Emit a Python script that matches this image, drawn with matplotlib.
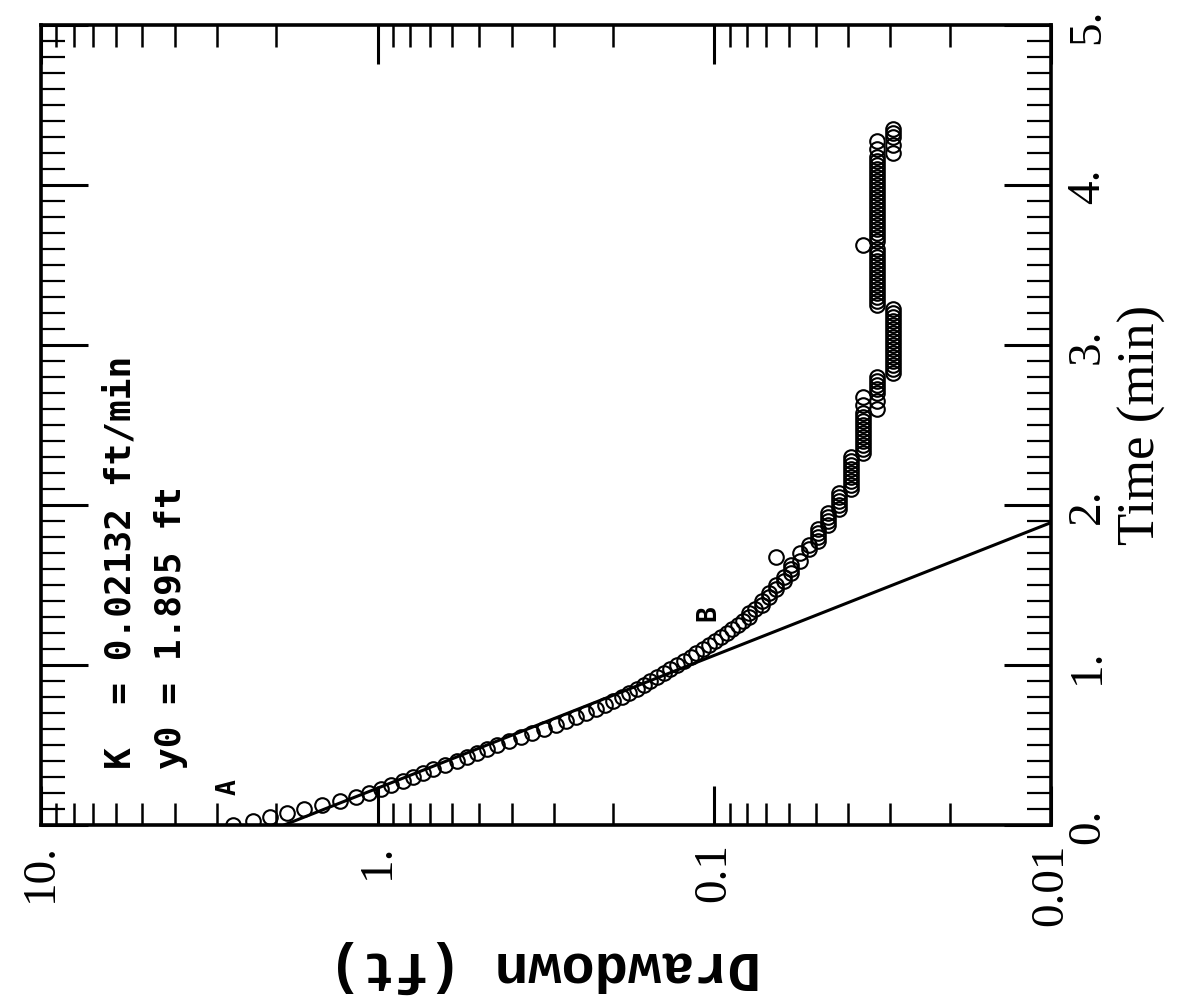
import matplotlib
matplotlib.use("Agg")
import matplotlib.pyplot as plt
from matplotlib.ticker import LogLocator, MultipleLocator, NullFormatter

# ---------------- data ----------------
time_min = [
    0.000, 0.025, 0.050, 0.075, 0.100, 0.125, 0.150, 0.175, 0.200, 0.225,
    0.250, 0.275, 0.300, 0.325, 0.350, 0.375, 0.400, 0.425, 0.450, 0.475,
    0.500, 0.525, 0.550, 0.575, 0.600, 0.625, 0.650, 0.675, 0.700, 0.725,
    0.750, 0.775, 0.800, 0.825, 0.850, 0.875, 0.900, 0.925, 0.950, 0.975,
    1.000, 1.025, 1.050, 1.075, 1.100, 1.125, 1.150, 1.175, 1.200, 1.225,
    1.250, 1.275, 1.300, 1.325, 1.350, 1.375, 1.400, 1.425, 1.450, 1.475,
    1.500, 1.525, 1.550, 1.575, 1.600, 1.625, 1.650, 1.675, 1.700, 1.725,
    1.750, 1.775, 1.800, 1.825, 1.850, 1.875, 1.900, 1.925, 1.950, 1.975,
    2.000, 2.025, 2.050, 2.075, 2.100, 2.125, 2.150, 2.175, 2.200, 2.225,
    2.250, 2.275, 2.300, 2.325, 2.350, 2.375, 2.400, 2.425, 2.450, 2.475,
    2.500, 2.525, 2.550, 2.575, 2.600, 2.625, 2.650, 2.675, 2.700, 2.725,
    2.750, 2.775, 2.800, 2.825, 2.850, 2.875, 2.900, 2.925, 2.950, 2.975,
    3.000, 3.025, 3.050, 3.075, 3.100, 3.125, 3.150, 3.175, 3.200, 3.225,
    3.250, 3.275, 3.300, 3.325, 3.350, 3.375, 3.400, 3.425, 3.450, 3.475,
    3.500, 3.525, 3.550, 3.575, 3.600, 3.625, 3.650, 3.675, 3.700, 3.725,
    3.750, 3.775, 3.800, 3.825, 3.850, 3.875, 3.900, 3.925, 3.950, 3.975,
    4.000, 4.025, 4.050, 4.075, 4.100, 4.125, 4.150, 4.175, 4.200, 4.225,
    4.250, 4.275, 4.300, 4.325, 4.350,
]

drawdown_ft = [
    2.69, 2.34, 2.09, 1.86, 1.66, 1.46, 1.29, 1.16, 1.06, 0.977,
    0.912, 0.841, 0.785, 0.733, 0.684, 0.631, 0.582, 0.543, 0.507, 0.473,
    0.442, 0.407, 0.376, 0.347, 0.320, 0.295, 0.275, 0.257, 0.240, 0.225,
    0.211, 0.200, 0.188, 0.179, 0.170, 0.162, 0.155, 0.148, 0.141, 0.135,
    0.129, 0.123, 0.117, 0.113, 0.108, 0.104, 0.0995, 0.0955, 0.0919, 0.0886,
    0.0853, 0.0820, 0.0787, 0.0787, 0.0755, 0.0722, 0.0722, 0.0689, 0.0689, 0.0656,
    0.0656, 0.0623, 0.0623, 0.0591, 0.0591, 0.0591, 0.0558, 0.0656, 0.0558, 0.0525,
    0.0525, 0.0492, 0.0492, 0.0492, 0.0492, 0.0459, 0.0459, 0.0459, 0.0459, 0.0427,
    0.0427, 0.0427, 0.0427, 0.0427, 0.0394, 0.0394, 0.0394, 0.0394, 0.0394, 0.0394,
    0.0394, 0.0394, 0.0394, 0.0361, 0.0361, 0.0361, 0.0361, 0.0361, 0.0361, 0.0361,
    0.0361, 0.0361, 0.0361, 0.0361, 0.0328, 0.0361, 0.0328, 0.0361, 0.0328, 0.0328,
    0.0328, 0.0328, 0.0328, 0.0295, 0.0295, 0.0295, 0.0295, 0.0295, 0.0295, 0.0295,
    0.0295, 0.0295, 0.0295, 0.0295, 0.0295, 0.0295, 0.0295, 0.0295, 0.0295, 0.0295,
    0.0328, 0.0328, 0.0328, 0.0328, 0.0328, 0.0328, 0.0328, 0.0328, 0.0328, 0.0328,
    0.0328, 0.0328, 0.0328, 0.0328, 0.0328, 0.0361, 0.0328, 0.0328, 0.0328, 0.0328,
    0.0328, 0.0328, 0.0328, 0.0328, 0.0328, 0.0328, 0.0328, 0.0328, 0.0328, 0.0328,
    0.0328, 0.0328, 0.0328, 0.0328, 0.0328, 0.0328, 0.0328, 0.0328, 0.0295, 0.0328,
    0.0295, 0.0328, 0.0295, 0.0295, 0.0295,
]

# straight-line fit (on log scale) between points A and B
fit_time_min = [0.0, 1.89]
fit_drawdown_ft = [1.895, 0.01]

drawdown_ticks = [10, 1, 0.1, 0.01]
drawdown_ticklabels = ["10.", "1.", "0.1", "0.01"]
time_ticks = [0, 1, 2, 3, 4, 5]
time_ticklabels = ["0.", "1.", "2.", "3.", "4.", "5."]

marker_labels = ["A", "B"]
marker_label_drawdown = [2.78, 0.1045]
marker_label_time = [0.24, 1.325]

K_text = "K  = 0.02132 ft/min"
y0_text = "y0 = 1.895 ft"
time_label = "Time (min)"
drawdown_label = "Drawdown (ft)"

# ---------------- figure ----------------
W, H = 1184, 996
fig = plt.figure(figsize=(W / 100, H / 100), dpi=100)
fig.patch.set_facecolor("white")

# chart is drawn rotated: drawdown runs horizontally, time vertically
ax = fig.add_axes([41 / W, 1 - 825 / H, (1051 - 41) / W, (825 - 25) / H])
ax.set_xscale("log")
ax.set_xlim(10, 0.01)
ax.set_ylim(0, 5)

ax.plot(drawdown_ft, time_min, linestyle="none", marker="o",
        markerfacecolor="none", markeredgecolor="black",
        markersize=10.5, markeredgewidth=1.5)
ax.plot(fit_drawdown_ft, fit_time_min, color="black", linewidth=2.2)

for s in ax.spines.values():
    s.set_linewidth(2.6)
    s.set_color("black")

serif = "Liberation Serif"

ax.set_xticks(drawdown_ticks)
ax.set_xticklabels(drawdown_ticklabels, fontfamily=serif, fontsize=34)
ax.xaxis.set_minor_locator(LogLocator(base=10, subs=(2, 3, 4, 5, 6, 7, 8, 9), numticks=20))
ax.xaxis.set_minor_formatter(NullFormatter())

ax.set_yticks(time_ticks)
ax.set_yticklabels(time_ticklabels, fontfamily=serif, fontsize=34)
ax.yaxis.set_minor_locator(MultipleLocator(0.1))

ax.tick_params(axis="both", which="both", direction="in",
               top=True, bottom=True, left=True, right=True,
               colors="black")
ax.tick_params(axis="x", which="major", length=28, width=2.2,
               labelrotation=90, pad=13)
ax.tick_params(axis="x", which="minor", length=16, width=1.8)
ax.tick_params(axis="y", which="major", length=34, width=2.2,
               labelleft=False, labelright=True, labelrotation=90, pad=11)
ax.tick_params(axis="y", which="minor", length=17, width=1.6)

for lbl, d, t in zip(marker_labels, marker_label_drawdown, marker_label_time):
    ax.text(d, t, lbl, rotation=90, ha="center", va="center",
            fontfamily="DejaVu Sans Mono", fontweight="bold", fontsize=19)

fig.text(130 / W, 1 - 769 / H, K_text, rotation=90, rotation_mode="anchor",
         ha="left", va="baseline", fontfamily="DejaVu Sans Mono",
         fontweight="bold", fontsize=26)
fig.text(181 / W, 1 - 769 / H, y0_text, rotation=90, rotation_mode="anchor",
         ha="left", va="baseline", fontfamily="DejaVu Sans Mono",
         fontweight="bold", fontsize=26)

fig.text(1142 / W, 1 - 425 / H, time_label, rotation=90, ha="center",
         va="center", fontfamily=serif, fontsize=38)
fig.text(545 / W, 1 - 967 / H, drawdown_label, rotation=180, ha="center",
         va="center", fontfamily="Liberation Mono", fontweight="bold",
         fontsize=40)

fig.savefig("out.png", dpi=100, facecolor="white")
